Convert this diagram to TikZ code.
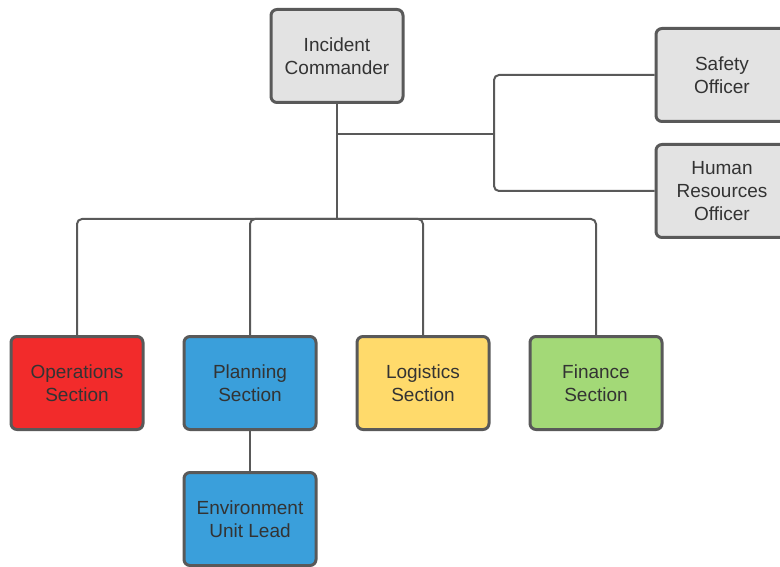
\documentclass[tikz,border=0pt]{standalone}
\usepackage{fontspec}
\setmainfont{Liberation Sans}
\usetikzlibrary{positioning}

\definecolor{boxgray}{HTML}{E3E3E3}
\definecolor{edgegray}{HTML}{595959}
\definecolor{textgray}{HTML}{333333}
\definecolor{opsred}{HTML}{F22B2B}
\definecolor{planblue}{HTML}{3A9FDB}
\definecolor{logyellow}{HTML}{FFDA6B}
\definecolor{fingreen}{HTML}{A3D977}

\begin{document}
\begin{tikzpicture}[x=1pt,y=-1pt,node distance=173pt,
    unit/.style={draw=edgegray, line width=3pt, rounded corners=6pt, fill=boxgray,
        minimum width=132pt, minimum height=93pt, align=center, text=textgray,
        font=\fontsize{19}{23}\selectfont},
    link/.style={draw=edgegray, line width=2pt, rounded corners=5pt}]
            \useasboundingbox (0,0) rectangle (780,567);

            \node[unit] (IC) at (337,56) {Incident\\Commander};
            \node[unit] (SO) at (722,75) {Safety\\Officer};
            \node[unit] (HR) at (722,191) {Human\\Resources\\Officer};
            \node[unit, fill=opsred] (OS) at (77,383) {Operations\\Section};
            \node[unit, fill=planblue] (PS) [right of=OS] {Planning\\Section};
            \node[unit, fill=logyellow] (LS) [right of=PS] {Logistics\\Section};
            \node[unit, fill=fingreen] (FS) [right of=LS] {Finance\\Section};
            \node[unit, fill=planblue] (EU) [below of=PS, node distance=136pt] {Environment\\Unit Lead};

            \coordinate (split) at (337,134);
            \coordinate (staff) at (494,134);
            \coordinate (bus) at (337,219);

            \path[link]
                (IC.south) edge (bus)
                (split) edge (staff)
                (PS.south) edge (EU.north);
            \draw[link] (staff) |- (SO.west);
            \draw[link] (staff) |- (HR.west);
            \draw[link] (bus) -| (OS.north);
            \draw[link] (bus) -| (PS.north);
            \draw[link] (bus) -| (LS.north);
            \draw[link] (bus) -| (FS.north);
        \end{tikzpicture}
\end{document}
